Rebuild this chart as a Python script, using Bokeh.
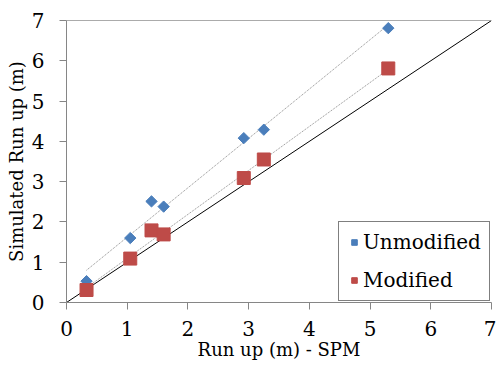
import numpy as np
from bokeh.plotting import figure
from bokeh.models import Range1d, FixedTicker, Legend, LegendItem, Span
from bokeh.embed import file_html
from bokeh.resources import INLINE

spm_x = [0.33, 1.05, 1.40, 1.60, 2.92, 3.25, 5.30]
unmodified = [0.53, 1.60, 2.51, 2.38, 4.08, 4.29, 6.81]
modified = [0.31, 1.09, 1.79, 1.69, 3.09, 3.55, 5.81]
ticks = [0, 1, 2, 3, 4, 5, 6, 7]

FONT = "DejaVu Serif"
AXIS_GRAY = "#868686"

p = figure(width=496, height=365, output_backend="svg", toolbar_location=None,
           x_range=Range1d(0, 7), y_range=Range1d(0, 7),
           min_border_left=66, min_border_right=5, min_border_top=20, min_border_bottom=63)
p.outline_line_color = None
p.grid.visible = False
p.background_fill_color = "white"
p.border_fill_color = "white"

for ax in (p.xaxis[0], p.yaxis[0]):
    ax.ticker = FixedTicker(ticks=ticks)
    ax.axis_line_color = AXIS_GRAY
    ax.major_tick_line_color = AXIS_GRAY
    ax.major_tick_out = 7
    ax.major_tick_in = 0
    ax.minor_tick_line_color = None
    ax.major_label_text_font = FONT
    ax.major_label_text_font_size = "20px"
    ax.major_label_text_color = "black"
    ax.axis_label_text_font = FONT
    ax.axis_label_text_font_size = "18px"
    ax.axis_label_text_font_style = "normal"
    ax.axis_label_text_color = "black"

p.xaxis.axis_label = "Run up (m) - SPM"
p.yaxis.axis_label = "Simulated Run up (m)"
p.xaxis.major_label_standoff = 11
p.xaxis.axis_label_standoff = 0
p.yaxis.major_label_standoff = 15
p.yaxis.axis_label_standoff = 2

p.add_layout(Span(location=7, dimension="width", line_color="#595959", line_width=1))

p.line([0, 7], [0, 7], line_color="black", line_width=1)

xs = np.array(spm_x)
for ys in (unmodified, modified):
    k, b = np.polyfit(xs, np.array(ys), 1)
    p.line([xs.min(), xs.max()], [k * xs.min() + b, k * xs.max() + b],
           line_color="#8c8c8c", line_width=1, line_dash="1 1")

r_u = p.scatter(spm_x, unmodified, marker="square", angle=np.pi / 4, size=8,
                fill_color="#4a7ebb", line_color="#4a7ebb")
r_m = p.scatter(spm_x, modified, marker="square", size=13,
                fill_color="#be4b48", line_color="#be4b48")

legend = Legend(items=[LegendItem(label="Unmodified", renderers=[r_u]),
                       LegendItem(label="Modified", renderers=[r_m])],
                location=(272, 1))
legend.border_line_color = "black"
legend.border_line_width = 1
legend.label_text_font = FONT
legend.label_text_font_size = "20px"
legend.label_text_color = "black"
legend.glyph_width = 14
legend.glyph_height = 20
legend.label_standoff = 2
legend.padding = 8
legend.spacing = 14
legend.margin = 0
legend.background_fill_alpha = 1
p.add_layout(legend)

open("out.html", "w").write(file_html(p, INLINE))
